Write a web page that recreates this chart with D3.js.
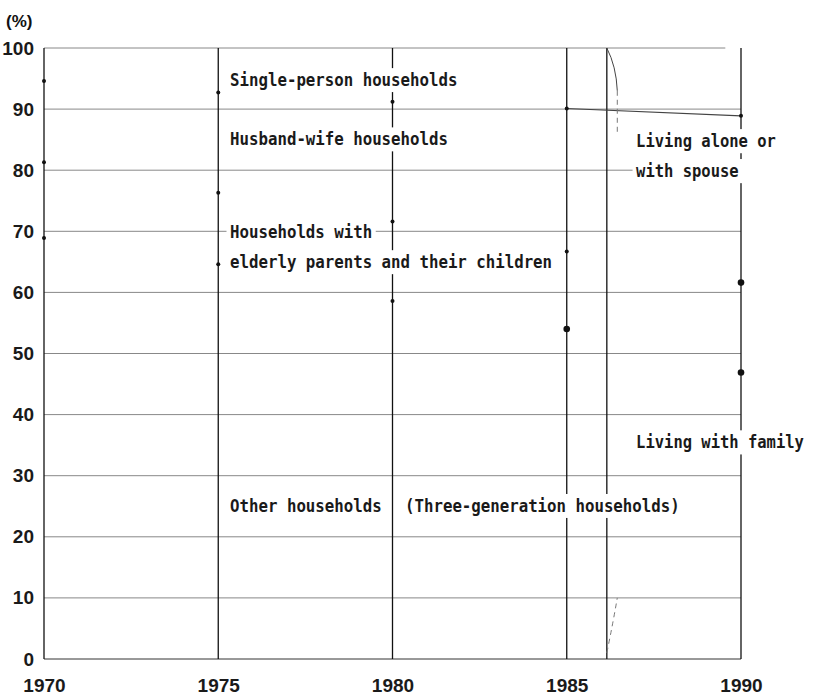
<!DOCTYPE html>
<html>
<head>
<meta charset="utf-8">
<script src="https://cdn.jsdelivr.net/npm/d3@7"></script>
<style>
  body { margin: 0; background: #fff; }
  svg { display: block; }
  .tick-num { font-family: "Liberation Sans Narrow", "Liberation Sans", sans-serif; font-size: 19px; font-weight: bold; fill: #1a1a1a; }
  .note { font-family: "DejaVu Sans Mono", "Liberation Mono", monospace; font-size: 17.5px; font-weight: bold; fill: #1a1a1a; }
</style>
</head>
<body>
<div id="chart"></div>
<script>
  // survey years (vertical bars)
  let years = [1970, 1975, 1980, 1985, 1990];
  // cumulative boundaries (%)
  let boundaryTop = [94.6, 92.7, 91.2, 90.1, 88.9];
  let boundaryMid = [81.3, 76.3, 71.6, 66.7, 61.6];
  let boundaryLow = [68.9, 64.6, 58.6, 54.0, 46.9];
  // break in the series (change of classification)
  let breakYear = 1986.15;
  let yTicks = [0, 10, 20, 30, 40, 50, 60, 70, 80, 90, 100];

  // labels: text, anchor year, anchor value (baseline)
  let notes = [
    { text: 'Single-person households', year: 1975.34, value: 93.8 },
    { text: 'Husband-wife households', year: 1975.34, value: 84.1 },
    { text: 'Households with', year: 1975.34, value: 68.9 },
    { text: 'elderly parents and their children', year: 1975.34, value: 64.0 },
    { text: 'Other households', year: 1975.34, value: 24.1 },
    { text: '(Three-generation households)', year: 1980.36, value: 24.1 },
    { text: 'Living alone or', year: 1986.99, value: 83.8 },
    { text: 'with spouse', year: 1986.99, value: 78.9 },
    { text: 'Living with family', year: 1986.99, value: 34.5 }
  ];

  let width = 813;
  let height = 699;

  let x = d3.scaleLinear().domain([1970, 1990]).range([44, 741]);
  let y = d3.scaleLinear().domain([0, 100]).range([659, 48]);

  let svg = d3.select('#chart').append('svg')
    .attr('width', width)
    .attr('height', height);

  svg.append('rect').attr('width', width).attr('height', height).attr('fill', '#fff');

  //horizontal grid
  svg.append('g')
    .selectAll('line')
    .data(yTicks)
    .enter().append('line')
    .attr('x1', x(1970))
    .attr('x2', (d) => d === 100 ? x(1989.55) : x(1990))
    .attr('y1', (d) => y(d))
    .attr('y2', (d) => y(d))
    .attr('stroke', (d) => d === 0 ? '#333' : '#888')
    .attr('stroke-width', 1);

  //year bars
  svg.append('g')
    .selectAll('line')
    .data(years.concat([breakYear]))
    .enter().append('line')
    .attr('x1', (d) => x(d))
    .attr('x2', (d) => x(d))
    .attr('y1', y(100))
    .attr('y2', y(0))
    .attr('stroke', '#111')
    .attr('stroke-width', 1.3);

  //top boundary after the break
  svg.append('line')
    .attr('x1', x(1985)).attr('y1', y(boundaryTop[3]))
    .attr('x2', x(1990)).attr('y2', y(boundaryTop[4]))
    .attr('stroke', '#444').attr('stroke-width', 1.2);

  //brace at the break
  let bx = x(breakYear);
  let bw = x(breakYear + 0.3) - bx;
  svg.append('path')
    .attr('d', `M${bx},${y(100)} Q${bx + bw * 0.9},${y(97)} ${bx + bw},${y(93)}`)
    .attr('fill', 'none').attr('stroke', '#444').attr('stroke-width', 1);
  svg.append('path')
    .attr('d', `M${bx + bw},${y(93)} L${bx + bw},${y(86)}`)
    .attr('fill', 'none').attr('stroke', '#777').attr('stroke-width', 1)
    .attr('stroke-dasharray', '5,4');
  svg.append('path')
    .attr('d', `M${bx},${y(1)} Q${bx + bw * 0.6},${y(6)} ${bx + bw},${y(10)}`)
    .attr('fill', 'none').attr('stroke', '#777').attr('stroke-width', 1)
    .attr('stroke-dasharray', '5,4');

  //dots
  let dots = [];
  years.forEach((yr, i) => {
    dots.push({ year: yr, value: boundaryTop[i], big: false });
    dots.push({ year: yr, value: boundaryMid[i], big: yr === 1990 });
    dots.push({ year: yr, value: boundaryLow[i], big: yr >= 1985 });
  });
  svg.append('g')
    .selectAll('circle')
    .data(dots)
    .enter().append('circle')
    .attr('cx', (d) => x(d.year))
    .attr('cy', (d) => y(d.value))
    .attr('r', (d) => d.big ? 3.3 : 2)
    .attr('fill', '#111');

  //notes with white backing, squeezed horizontally like the typewriter face
  let noteG = svg.append('g');
  notes.forEach((n) => {
    let sx = n.year > 1986 ? 0.885 : 0.9;
    let g = noteG.append('g')
      .attr('transform', `translate(${x(n.year)},${y(n.value)}) scale(${sx},1)`);
    let t = g.append('text')
      .attr('class', 'note')
      .text(n.text);
    let b = t.node().getBBox();
    g.insert('rect', 'text')
      .attr('x', b.x - 4)
      .attr('y', b.y - 2)
      .attr('width', b.width + 8)
      .attr('height', b.height + 4)
      .attr('fill', '#fff');
  });

  //axes
  let yAxis = svg.append('g')
    .attr('transform', `translate(${x(1970)},0)`)
    .call(d3.axisLeft(y).tickValues(yTicks).tickSize(0).tickPadding(10));
  yAxis.select('.domain').remove();
  yAxis.selectAll('text').attr('class', 'tick-num').attr('font-family', null).attr('font-size', null);

  let xAxis = svg.append('g')
    .attr('transform', `translate(0,${y(0)})`)
    .call(d3.axisBottom(x).tickValues(years).tickFormat(d3.format('d')).tickSize(0).tickPadding(20));
  xAxis.select('.domain').remove();
  xAxis.selectAll('text').attr('class', 'tick-num').attr('font-family', null).attr('font-size', null);

  svg.append('text')
    .attr('x', 6).attr('y', 27)
    .attr('font-family', 'Liberation Sans Narrow, Liberation Sans, sans-serif')
    .attr('font-size', 17).attr('font-weight', 'bold').attr('fill', '#111')
    .text('(%)');
</script>
</body>
</html>
